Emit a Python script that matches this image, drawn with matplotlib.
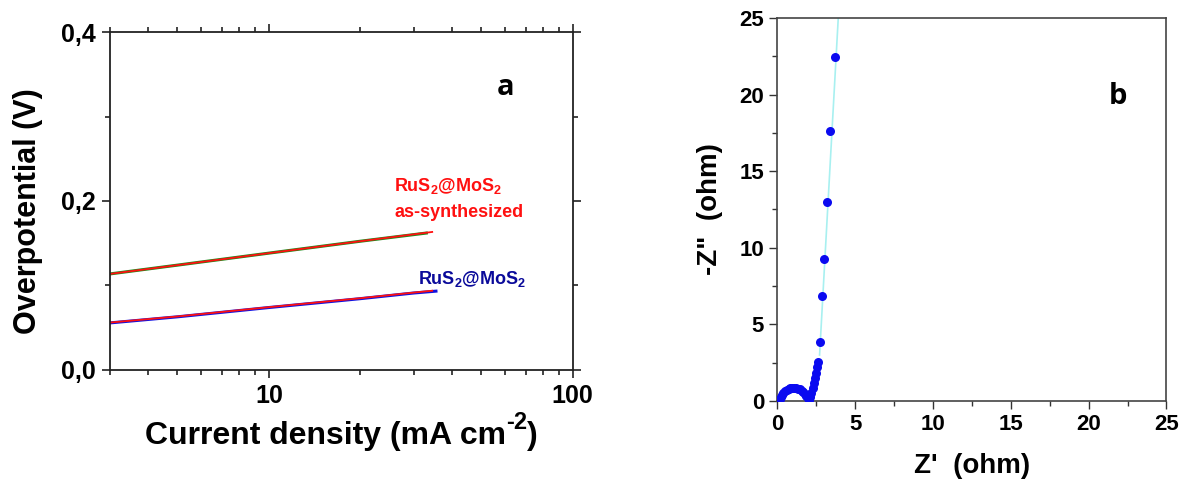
import matplotlib
matplotlib.use("Agg")
import matplotlib.pyplot as plt
from matplotlib.ticker import FixedLocator, LogLocator, NullFormatter

plt.rcParams['font.family'] = ['Liberation Sans', 'DejaVu Sans']
plt.rcParams['font.weight'] = 'bold'
plt.rcParams['mathtext.fontset'] = 'custom'
plt.rcParams['mathtext.rm'] = 'Liberation Sans:bold'
plt.rcParams['mathtext.bf'] = 'Liberation Sans:bold'

# ---------------------------------------------------------------------------
# Panel a: Tafel plots
# ---------------------------------------------------------------------------
j_as_data = [3.0, 5.0, 10.0, 20.0, 33.0]
eta_as_data = [0.1136, 0.1240, 0.1382, 0.1523, 0.1620]
j_as_fit = [3.0, 5.0, 10.0, 20.0, 34.5]
eta_as_fit = [0.1136, 0.1240, 0.1382, 0.1523, 0.1633]

j_an_data = [3.0, 5.0, 10.0, 20.0, 30.0, 35.5]
eta_an_data = [0.0556, 0.0628, 0.0738, 0.0843, 0.0910, 0.0932]
j_an_fit = [3.0, 5.0, 10.0, 20.0, 30.0, 34.5]
eta_an_fit = [0.0560, 0.0632, 0.0742, 0.0848, 0.0915, 0.0937]

a_yticks = [0.0, 0.2, 0.4]
a_yticklabels = ['0,0', '0,2', '0,4']
a_xticks = [10, 100]
a_xticklabels = ['10', '100']

# ---------------------------------------------------------------------------
# Panel b: Nyquist plot
# ---------------------------------------------------------------------------
z_re = [0.10, 0.16, 0.23, 0.31, 0.40, 0.50, 0.61, 0.73, 0.85, 0.97, 1.09,
        1.21, 1.33, 1.45, 1.57, 1.68, 1.78, 1.87, 1.95, 2.02,
        2.10, 2.19, 2.28, 2.36, 2.43, 2.50, 2.56, 2.62,
        2.76, 2.88, 2.99, 3.22, 3.40, 3.72]
z_im = [0.02, 0.14, 0.28, 0.41, 0.53, 0.64, 0.73, 0.80, 0.85, 0.87, 0.87,
        0.85, 0.81, 0.75, 0.67, 0.57, 0.45, 0.32, 0.19, 0.08,
        0.25, 0.55, 0.85, 1.15, 1.50, 1.85, 2.20, 2.55,
        3.85, 6.87, 9.29, 13.0, 17.6, 22.45]
fit_re = [2.72, 3.92]
fit_im = [3.0, 25.0]

b_ticks = [0, 5, 10, 15, 20, 25]


def style_box(ax, lw=1.3, color='#222222'):
    for sp in ax.spines.values():
        sp.set_linewidth(lw)
        sp.set_color(color)


fig = plt.figure(figsize=(11.83, 4.86), dpi=100)

# ---- panel a ----
ax = fig.add_axes([0.093, 0.239, 0.391, 0.695])
ax.plot(j_as_data, eta_as_data, color='#1a8a1a', lw=2.2)
ax.plot(j_as_fit, eta_as_fit, color='#ff1010', lw=1.3)
ax.plot(j_an_data, eta_an_data, color='#1010e0', lw=2.2)
ax.plot(j_an_fit, eta_an_fit, color='#ff1010', lw=1.3)

ax.set_xscale('log')
ax.set_xlim(3, 100)
ax.set_ylim(0, 0.4)
ax.xaxis.set_major_locator(FixedLocator(a_xticks))
ax.set_xticklabels(a_xticklabels)
ax.xaxis.set_minor_locator(LogLocator(base=10, subs=range(2, 10)))
ax.xaxis.set_minor_formatter(NullFormatter())
ax.set_yticks(a_yticks)
ax.set_yticklabels(a_yticklabels)
ax.yaxis.set_minor_locator(FixedLocator([0.1, 0.3]))
ax.tick_params(which='both', direction='out', top=True, right=True,
               width=1.2, color='#222222', labelsize=18)
ax.tick_params(which='major', length=6, pad=4)
ax.tick_params(which='minor', length=3.5)
style_box(ax)
ax.set_ylabel('Overpotential (V)', fontsize=22, fontweight='bold')
ax.yaxis.set_label_coords(-0.145, 0.47)

# x label with a hyphen-style superscript, built in three pieces
xl1 = ax.text(0.075, -0.24, 'Current density (mA cm', transform=ax.transAxes,
              fontsize=23, fontweight='bold', ha='left', va='bottom')
xl2 = ax.annotate('-2', xy=(1.0, 0.58), xycoords=xl1, fontsize=17,
                  fontweight='bold', ha='left', va='bottom')
ax.annotate(')', xy=(1.0, 0.0), xycoords=(xl2, xl1), fontsize=23,
            fontweight='bold', ha='left', va='bottom')

ax.text(0.855, 0.835, 'a', transform=ax.transAxes, fontsize=21,
        fontweight='bold', family=['Open Sans', 'DejaVu Sans'],
        ha='center', va='center')
ax.text(0.615, 0.545, 'RuS$_2$@MoS$_2$', transform=ax.transAxes,
        fontsize=13, fontweight='bold', color='#ff1010', ha='left', va='center')
ax.text(0.615, 0.465, 'as-synthesized', transform=ax.transAxes,
        fontsize=13, fontweight='bold', color='#ff1010', ha='left', va='center')
ax.text(0.665, 0.27, 'RuS$_2$@MoS$_2$', transform=ax.transAxes,
        fontsize=13, fontweight='bold', color='#0a0a9a', ha='left', va='center')

# ---- panel b ----
bx = fig.add_axes([0.657, 0.175, 0.329, 0.788])
bx.plot(fit_re, fit_im, color='#a8f0f0', lw=1.2, zorder=2)
bx.plot(z_re, z_im, 'o', color='#0a0af0', ms=6.5, mec='none', zorder=3)
bx.set_xlim(0, 25)
bx.set_ylim(0, 25)
bx.set_xticks(b_ticks)
bx.set_yticks(b_ticks)
bx.xaxis.set_minor_locator(FixedLocator([2.5, 7.5, 12.5, 17.5, 22.5]))
bx.yaxis.set_minor_locator(FixedLocator([2.5, 7.5, 12.5, 17.5, 22.5]))
bx.tick_params(which='both', direction='out', labelsize=16, width=1.0,
               color='#333333')
bx.tick_params(which='major', length=6)
bx.tick_params(which='minor', length=3.5)
style_box(bx, lw=1.2, color='#444444')
bx.set_xlabel("Z'  (ohm)", fontsize=20, fontweight='bold', labelpad=13)
bx.set_ylabel('-Z"  (ohm)', fontsize=20, fontweight='bold', labelpad=12)
bx.text(0.875, 0.795, 'b', transform=bx.transAxes, fontsize=21,
        fontweight='bold', family=['Open Sans', 'DejaVu Sans'],
        ha='center', va='center')

fig.savefig('out.png', dpi=100)
